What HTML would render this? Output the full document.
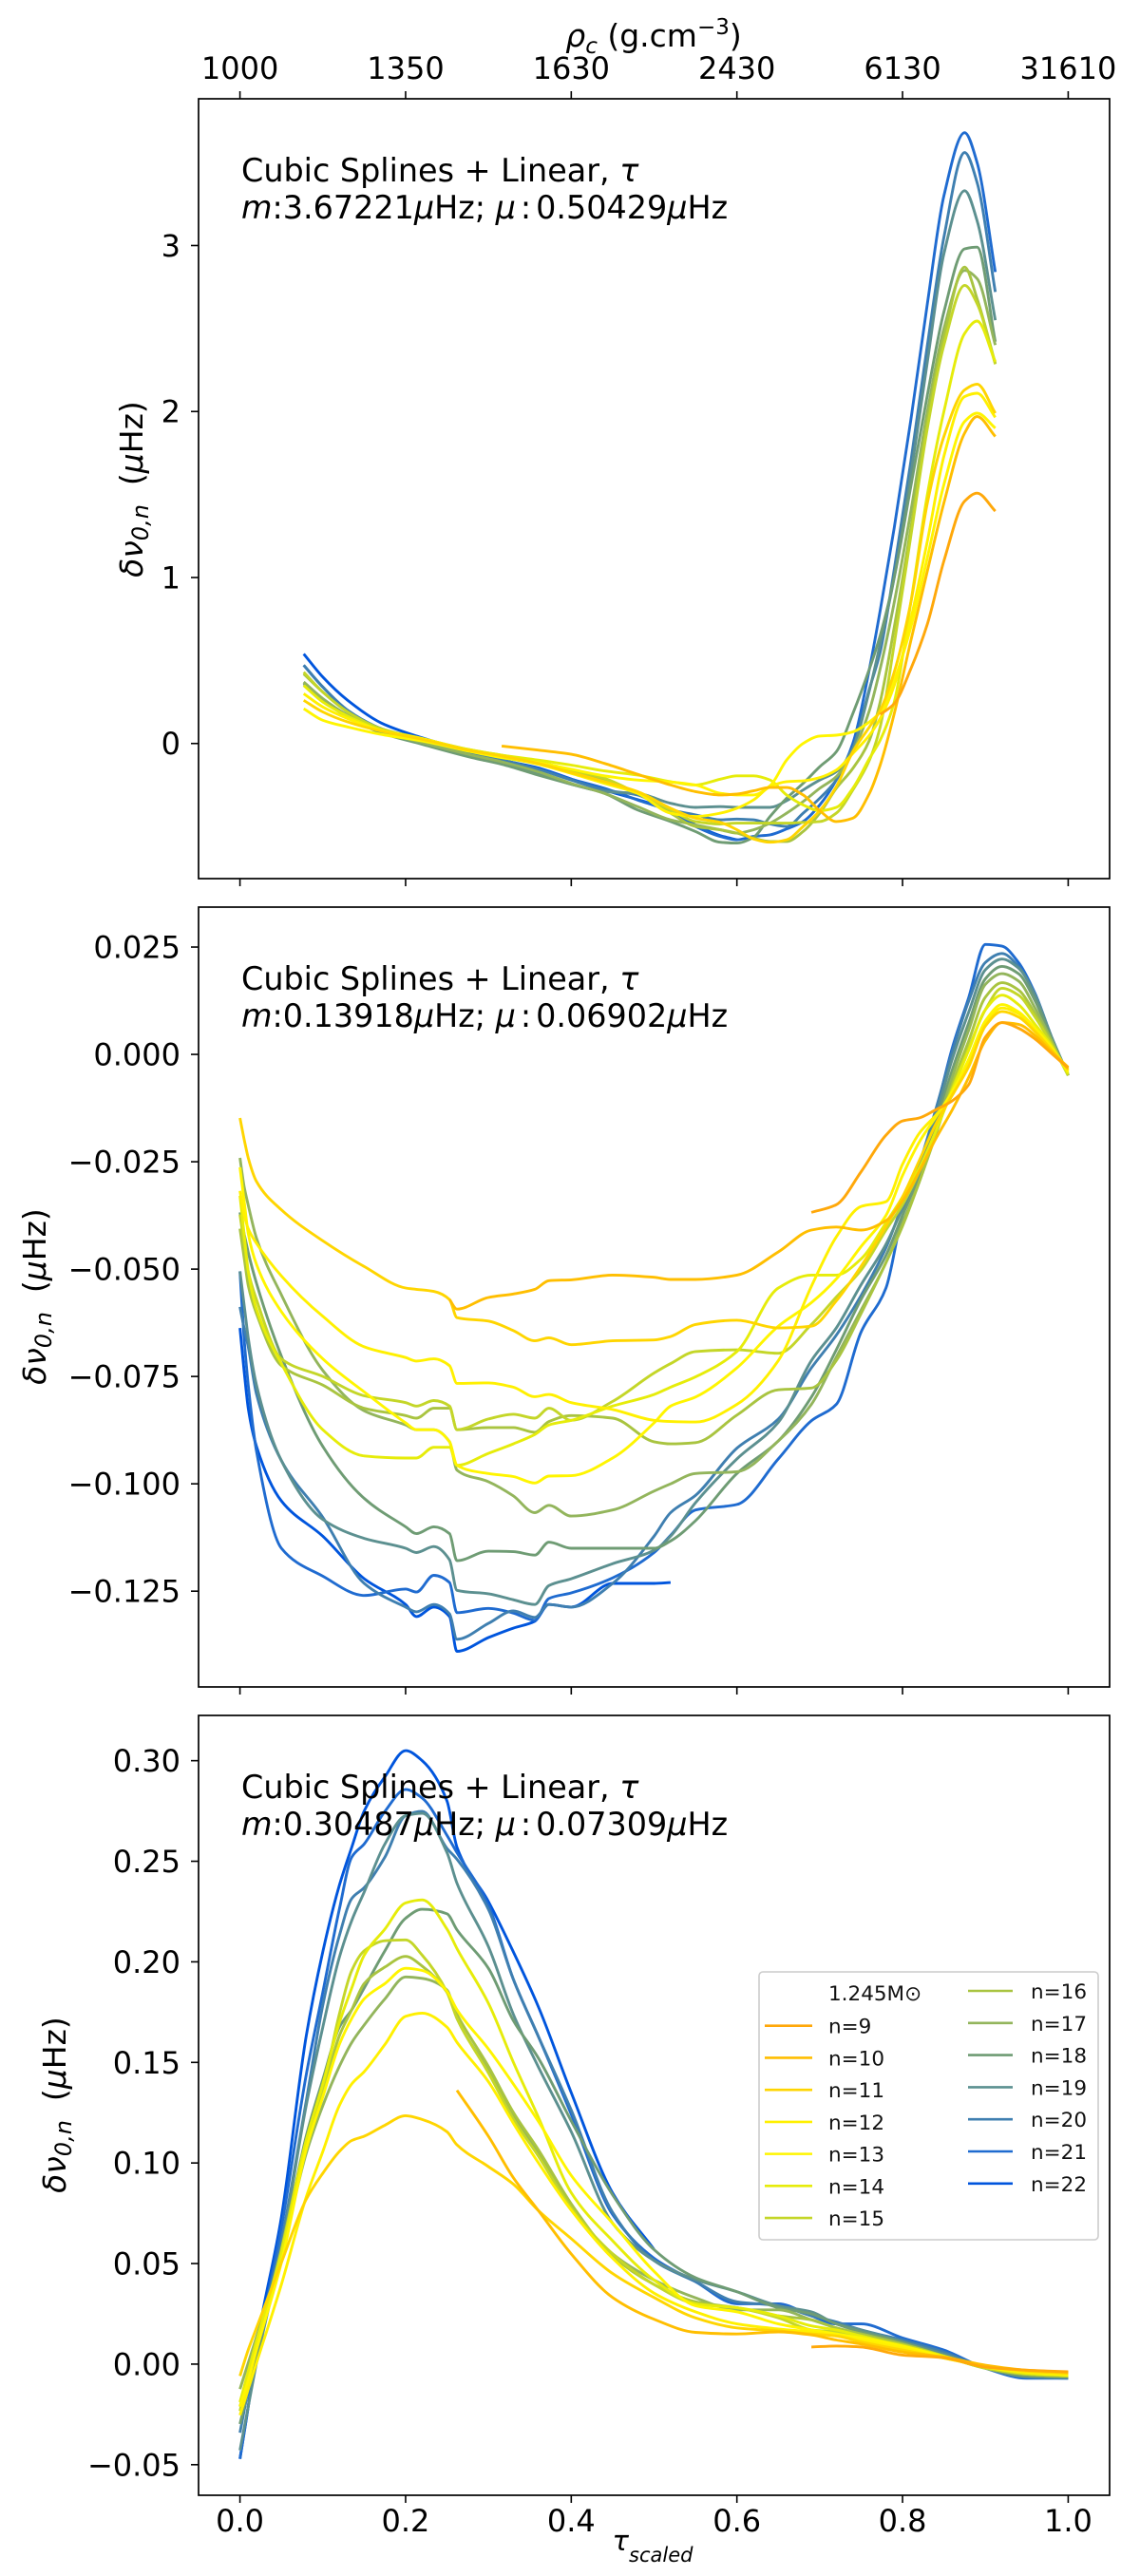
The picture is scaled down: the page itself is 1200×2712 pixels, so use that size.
<!DOCTYPE html>
<html lang="en">
<head>
<meta charset="utf-8">
<title>Frequency differences vs scaled acoustic depth</title>
<style>
html,body{margin:0;padding:0;background:#fff;}
svg{display:block;}
text{font-family:"DejaVu Sans","Liberation Sans",sans-serif;fill:#000;}
.tick{font-size:32px;}
.ann{font-size:33.4px;}
.lab{font-size:33px;}
.it{font-style:italic;}
.leg{font-size:21.5px;fill:#111;}
</style>
</head>
<body>
<svg id="fig" xmlns="http://www.w3.org/2000/svg" width="1200" height="2712" viewBox="0 0 1200 2712">
  <rect x="0" y="0" width="1200" height="2712" fill="#fff"/>
  <g id="plots"></g>

  <text class="lab" x="688" y="49" text-anchor="middle"><tspan class="it">ρ</tspan><tspan class="it" font-size="23" dy="7">c</tspan><tspan dy="-7"> (g.cm</tspan><tspan font-size="23" dy="-13">−3</tspan><tspan dy="13">)</tspan></text>

  <text class="ann"><tspan x="254" y="191">Cubic Splines + Linear, </tspan><tspan class="it">τ</tspan><tspan x="254" y="230" class="it">m</tspan><tspan>:3.67221</tspan><tspan class="it">μ</tspan><tspan>Hz; </tspan><tspan class="it">μ</tspan><tspan dx="5">:</tspan><tspan dx="5">0.50429</tspan><tspan class="it">μ</tspan><tspan>Hz</tspan></text>
  <text class="ann"><tspan x="254" y="1042">Cubic Splines + Linear, </tspan><tspan class="it">τ</tspan><tspan x="254" y="1081" class="it">m</tspan><tspan>:0.13918</tspan><tspan class="it">μ</tspan><tspan>Hz; </tspan><tspan class="it">μ</tspan><tspan dx="5">:</tspan><tspan dx="5">0.06902</tspan><tspan class="it">μ</tspan><tspan>Hz</tspan></text>
  <text class="ann"><tspan x="254" y="1893">Cubic Splines + Linear, </tspan><tspan class="it">τ</tspan><tspan x="254" y="1932" class="it">m</tspan><tspan>:0.30487</tspan><tspan class="it">μ</tspan><tspan>Hz; </tspan><tspan class="it">μ</tspan><tspan dx="5">:</tspan><tspan dx="5">0.07309</tspan><tspan class="it">μ</tspan><tspan>Hz</tspan></text>

  <text class="lab" transform="translate(150 515) rotate(-90)" text-anchor="middle"><tspan class="it">δν</tspan><tspan font-size="24" class="it" dy="6">0,n</tspan><tspan dy="-6" dx="20">(</tspan><tspan class="it">μ</tspan><tspan>Hz)</tspan></text>
  <text class="lab" transform="translate(48 1365) rotate(-90)" text-anchor="middle"><tspan class="it">δν</tspan><tspan font-size="24" class="it" dy="6">0,n</tspan><tspan dy="-6" dx="20">(</tspan><tspan class="it">μ</tspan><tspan>Hz)</tspan></text>
  <text class="lab" transform="translate(69 2216) rotate(-90)" text-anchor="middle"><tspan class="it">δν</tspan><tspan font-size="24" class="it" dy="6">0,n</tspan><tspan dy="-6" dx="20">(</tspan><tspan class="it">μ</tspan><tspan>Hz)</tspan></text>

  <text x="687" y="2685" text-anchor="middle" font-size="29"><tspan class="it">τ</tspan><tspan class="it" font-size="21" dy="12">scaled</tspan></text>

  <g id="legend"></g>
</svg>
<script>
const _ = null;
const seriesNames = ["n=9","n=10","n=11","n=12","n=13","n=14","n=15","n=16","n=17","n=18","n=19","n=20","n=21","n=22"];
const seriesColors = ["#ffa80a","#ffbe00","#ffd500","#fff000","#fff500","#e6ec0a","#c4d628","#a9c440","#93b55c","#6f9c74","#5c9090","#3f7fb0","#1f6bd0","#0055dd"];

const xTicks = [0,0.2,0.4,0.6,0.8,1.0];
const xTickLabels = ["0.0","0.2","0.4","0.6","0.8","1.0"];
const rhoTickLabels = ["1000","1350","1630","2430","6130","31610"];
const xLimits = [-0.05,1.05];

/* top panel: delta nu in microHz */
const topTau = [.077,.1,.13,.17,.22,.28,.316,.36,.4,.44,.48,.52,.55,.58,.6,.62,.64,.66,.68,.7,.72,.74,.76,.773,.79,.81,.83,.85,.875,.89,.912];
const topTicks = [0,1,2,3];
const topTickLabels = ["0","1","2","3"];
const topLimits = [-0.814,3.884];
const top9  = [_,_,_,_,_,_,_,_,_,_,_,_,_,_,_,_,_,_,_,_,_,_,_,.175,.24,.45,.72,1.1,1.46,1.508,1.40];
const top10 = [_,_,_,_,_,_,-.015,-.04,-.065,-.12,-.185,-.25,-.29,-.31,-.305,-.285,-.265,-.265,-.31,-.405,-.47,-.45,-.3,-.13,.18,.62,1.04,1.45,1.87,1.97,1.85];
const top11 = [.26,.19,.13,.075,.025,-.045,-.075,-.12,-.175,-.23,-.29,-.39,-.45,-.475,-.52,-.575,-.595,-.58,-.5,-.405,-.26,-.05,.1,.2,.43,.85,1.45,1.85,2.13,2.165,1.99];
const top12 = [.3,.22,.15,.08,.03,-.045,-.08,-.125,-.18,-.24,-.3,-.42,-.44,-.42,-.39,-.34,-.26,-.23,-.225,-.205,-.16,-.06,.05,.15,.35,.75,1.22,1.73,2.09,2.11,1.965];
const top13 = [.21,.14,.1,.055,.015,-.05,-.085,-.115,-.155,-.195,-.22,-.232,-.25,-.3,-.31,-.31,-.255,-.1,0,.045,.05,.07,.13,.19,.38,.7,1.12,1.56,1.94,1.99,1.9];
const top14 = [.35,.25,.165,.08,.02,-.04,-.07,-.1,-.13,-.165,-.19,-.23,-.25,-.215,-.195,-.195,-.22,-.31,-.37,-.405,-.385,-.27,-.09,.02,.25,.85,1.5,2.0,2.47,2.545,2.3];
const top15 = [.43,.31,.19,.09,.03,-.04,-.07,-.11,-.16,-.21,-.3,-.4,-.47,-.485,-.48,-.48,-.48,-.48,-.475,-.47,-.42,-.28,-.1,.1,.6,1.25,1.9,2.4,2.76,2.65,2.285];
const top16 = [.42,.31,.19,.085,.02,-.05,-.085,-.12,-.165,-.22,-.3,-.42,-.5,-.52,-.54,-.57,-.59,-.59,-.53,-.42,-.27,-.15,.02,.25,.7,1.3,1.95,2.45,2.87,2.68,2.29];
const top17 = [.37,.27,.17,.075,.005,-.07,-.11,-.17,-.24,-.3,-.38,-.46,-.49,-.52,-.54,-.52,-.48,-.42,-.35,-.27,-.2,-.05,.2,.45,.85,1.4,2.0,2.5,2.85,2.8,2.4];
const top18 = [.36,.26,.16,.065,-.005,-.085,-.125,-.19,-.245,-.3,-.4,-.47,-.53,-.595,-.6,-.565,-.44,-.33,-.24,-.14,-.05,.18,.45,.65,1.0,1.55,2.1,2.6,2.98,2.99,2.42];
const top19 = [.37,.27,.17,.07,0,-.08,-.115,-.18,-.245,-.29,-.3,-.36,-.385,-.38,-.385,-.385,-.385,-.345,-.28,-.22,-.17,-.03,.32,.6,1.0,1.62,2.3,2.95,3.33,3.15,2.55];
const top20 = [.472,.34,.2,.09,.02,-.06,-.1,-.155,-.22,-.28,-.31,-.4,-.43,-.46,-.455,-.46,-.485,-.5,-.42,-.33,-.22,-.03,.33,.55,1.05,1.7,2.4,3.05,3.56,3.38,2.72];
const top21 = [.472,.34,.2,.09,.02,-.06,-.1,-.155,-.215,-.27,-.34,-.41,-.5,-.56,-.58,-.56,-.55,-.515,-.47,-.37,-.22,0,.45,.8,1.3,1.95,2.65,3.3,3.68,3.5,2.84];
const top22 = [.54,.40,.26,.125,.034,-.052,-.1,-.147,-.214,-.28,-.338,-.4,-.49,-.555,-.58,_,_,_,_,_,_,_,_,_,_,_,_,_,_,_,_];
const topSeries = [top9,top10,top11,top12,top13,top14,top15,top16,top17,top18,top19,top20,top21,top22];

/* middle panel: delta nu in 10^-3 microHz */
const midTau = [0,.005,.01,.02,.05,.1,.15,.2,.213,.234,.253,.262,.3,.33,.356,.373,.4,.45,.5,.52,.55,.6,.65,.69,.72,.75,.78,.8,.82,.84,.86,.88,.9,.92,.94,.96,.98,1];
const midTicks = [25,0,-25,-50,-75,-100,-125];
const midTickLabels = ["0.025","0.000","−0.025","−0.050","−0.075","−0.100","−0.125"];
const midLimits = [-147.3,34.3];
const mid9  = [_,_,_,_,_,_,_,_,_,_,_,_,_,_,_,_,_,_,_,_,_,_,_,-36.8,-35,-27.3,-18.8,-15.5,-14.8,-12.9,-10.8,-7,4,7.4,6.1,3.6,.2,-3.2];
const mid10 = [_,_,_,_,_,_,_,_,_,_,-57.1,-59.3,-56.6,-55.8,-54.7,-52.7,-52.5,-51.4,-51.9,-52.4,-52.4,-51.4,-46,-40.9,-40.2,-40.9,-38.7,-34.1,-27.3,-19.7,-12.9,-5.3,3.2,7.4,7,4.4,.6,-3];
const mid11 = [-14.8,-19.7,-24.1,-29.6,-36.2,-43.4,-49.4,-54.4,-54.7,-55.2,-57.1,-61.3,-62.1,-64.3,-66.7,-66,-67.6,-66.7,-66.5,-65.7,-62.9,-61.9,-63.7,-63.3,-57.4,-49.3,-40,-33.2,-24.8,-16.3,-9.5,-2.8,6.6,10,8.7,5.3,1,-3.6];
const mid12 = [-31.8,-37.3,-40.6,-44,-51.6,-61,-68.1,-70.6,-71.4,-70.9,-72.5,-76.6,-76.5,-77.5,-79.7,-79.2,-81.1,-82.7,-85.2,-85.5,-85.6,-81.5,-71.3,-54,-42.5,-35.4,-34.3,-25.6,-18.4,-14.2,-9.5,-1.9,7,10.8,9.5,5.7,1.5,-3.6];
const mid13 = [-26.3,-34,-41.7,-48.9,-59.9,-70.9,-78.6,-85.8,-87.4,-87.4,-90.2,-95.7,-97.6,-98.3,-99.8,-98.2,-98.1,-94,-85.8,-81.9,-79.8,-73,-63.3,-57.8,-52.3,-44.7,-37.5,-28.2,-20.5,-14.6,-8.7,-1.1,7.8,11.6,9.9,6.1,1.5,-4];
const mid14 = [-32.9,-41.7,-50.5,-59.3,-72,-87.4,-93.5,-94,-94,-91.5,-91.5,-95.7,-92.9,-90.7,-88.5,-86.3,-85.2,-81.9,-79.2,-77.5,-75.1,-69.2,-54.4,-51.4,-51.4,-47.6,-39.2,-33.2,-26.5,-18,-8.3,1,10.4,13.8,11.6,7,1.9,-4.5];
const mid15 = [-37.3,-44,-50.5,-57.1,-70.9,-75,-79.5,-81.1,-81.9,-80.6,-81.9,-87.4,-84.9,-83.8,-84.7,-82.4,-85.2,-80.8,-74.2,-72,-69.2,-68.8,-69.6,-62.9,-56.5,-50.2,-40.9,-35,-27.3,-18,-7.8,1.5,10.4,15.4,13.8,8.7,2.3,-4.9];
const mid16 = [-40.6,-47.2,-53.8,-60.4,-72.5,-77,-82.4,-84.1,-84.7,-82.4,-82.4,-87.4,-86.9,-86.9,-88,-85.5,-84.1,-84.7,-90.2,-90.7,-90.4,-84,-78.1,-77.7,-71.3,-60.3,-48.5,-40,-29.8,-18.8,-7,3.2,13.3,16.7,15,9.5,2.7,-4.9];
const mid17 = [-24.1,-30.7,-35.1,-42.8,-56,-73.6,-83,-86.3,-87.4,-87.4,-90.2,-96.8,-99.5,-102.8,-106.7,-105,-107.5,-106.1,-101.7,-100,-97.6,-97.2,-90,-81.5,-70.5,-59.5,-48.5,-39.2,-29.8,-18,-5.3,5.7,16.3,18.8,17.1,10.8,3.2,-4.9];
const mid18 = [-36.8,-41.7,-46.1,-53.3,-70.3,-91.3,-103.4,-110,-111.6,-110,-111.6,-117.9,-115.7,-115.8,-116.6,-113.6,-115,-115,-115,-113.3,-108.6,-97.6,-90,-79.8,-68.8,-57,-46.8,-37.5,-28.2,-16.3,-3.6,7.4,17.6,20.5,18.8,12.5,3.6,-4.9];
const mid19 = [-50.5,-58.2,-66,-77,-94.6,-108.3,-112.7,-115,-116,-114.6,-117.7,-124.8,-125.6,-127,-128.1,-123.7,-122.1,-118.6,-115.5,-112.2,-104.4,-94.2,-85.7,-71.3,-63.7,-53.6,-44.2,-35.8,-26.5,-14.6,-1.1,9.9,19.7,22.2,20.1,13.8,4,-4.9];
const mid20 = [-58.8,-63.7,-68.1,-79.1,-94.6,-107.8,-123.2,-128.7,-129.8,-128.1,-130.3,-136.2,-132.5,-129.6,-131.1,-128.1,-128.7,-123.2,-112.2,-106.7,-102.7,-91.7,-84.9,-73,-65.4,-56.1,-45,-35,-25.6,-12.9,.6,12.5,21.4,23.5,20.5,13.8,4,-4.9];
const mid21 = [-50.5,-66,-77,-92.4,-115,-121.5,-126,-124.5,-125.2,-121.3,-123,-130,-129,-130.1,-131.8,-126.7,-125.4,-121.9,-116,-112,-106.1,-104.8,-94.2,-85.3,-81.5,-64.6,-54.4,-37.5,-28.2,-13.8,1.5,13.3,25.6,25.2,21.4,14.2,4,-4.9];
const mid22 = [-63.7,-73.6,-82.4,-91.3,-104,-112.2,-122.1,-128.1,-130.9,-128.7,-130.9,-139,-135.8,-133.6,-132,-128.1,-128.7,-123.2,-123.2,-123,_,_,_,_,_,_,_,_,_,_,_,_,_,_,_,_,_,_];
const midSeries = [mid9,mid10,mid11,mid12,mid13,mid14,mid15,mid16,mid17,mid18,mid19,mid20,mid21,mid22];

/* bottom panel: delta nu in 10^-3 microHz */
const botTau = [0,.01,.02,.05,.08,.1,.12,.135,.15,.175,.2,.22,.25,.262,.3,.33,.36,.4,.45,.5,.55,.6,.65,.69,.72,.75,.8,.85,.9,.95,1];
const botTicks = [300,250,200,150,100,50,0,-50];
const botTickLabels = ["0.30","0.25","0.20","0.15","0.10","0.05","0.00","−0.05"];
const botLimits = [-65.2,322.5];
const bot9  = [_,_,_,_,_,_,_,_,_,_,_,_,_,_,_,_,_,_,_,_,_,_,_,8.5,9,8.5,4.5,3.2,-1.5,-3,-3.8];
const bot10 = [_,_,_,_,_,_,_,_,_,_,_,_,_,136.1,113.3,92.7,76.5,54.8,33.1,22.3,15.8,15,16,14.5,12,10,6,3.5,-.5,-3,-4];
const bot11 = [-5.9,7.1,18,50.5,81.9,94.9,105.7,111.2,113.3,118.8,123.5,121.6,115.5,109,98.2,89.5,76.5,62.4,45,33.1,23,18,16.5,15,14,11,7,3,-1,-3.5,-4.5];
const bot12 = [-25.4,-12.4,.6,39.6,83,105.7,128.5,139.3,145.4,158.9,172.9,174.5,167.5,160,140.4,119.8,100.3,76.5,52.6,35.3,26,20,17.5,16,14,12,8,3,-1,-4,-5];
const bot13 = [-21.1,-8.1,7.1,50.5,106.8,132.8,158.9,171.9,181.6,189.2,196.8,195.7,185.3,176.2,156.7,139.3,120.9,93.8,70,46.1,29,26,20,17,15,13,9,3.5,-1.5,-4,-5.5];
const bot14 = [-18.9,-3.7,11.4,54.8,111.2,139.3,169.7,187,203.3,216.3,229.3,230.8,216.3,206.6,179.4,150.2,123.1,85.2,61.3,41.8,30,28,24,19,17,14,9,4,-1.5,-4.5,-5.5];
const bot15 = [-23.3,-5.9,9.3,57,111.2,137.2,174,195.7,205.5,210.5,210.9,203.3,184.9,171.9,144.8,122,103.6,77.6,54.8,39.6,30,28,23,17,16,13,9.5,4,-2,-5,-6];
const bot16 = [-21.1,-5.9,9.3,54.8,109,135,163.2,176.2,189.2,197.4,202.7,197.9,184.9,174,148,125.2,106.8,79.7,53.7,39.6,31,28,24,22,18,15,10,4,-2,-5,-6];
const bot17 = [-12.4,.6,13.6,54.8,104.7,128.5,148,159.9,168.6,181.6,192.5,191.8,186,171.9,145.8,123.1,105.7,77.6,54.8,41.8,33,27,27,22,18,15,10,4,-2,-5,-6];
const bot18 = [-29.8,-12.4,4.9,54.8,113.3,141.5,167.5,176.2,187,205.5,221.7,226.1,223.9,215.9,196.8,170.8,152.4,120.9,84.1,56.9,43,36,28,25,20,16,11,4,-2,-6,-6.5];
const bot19 = [-42.8,-21.1,.6,57,128.5,167.5,202.2,220.6,234.7,258.6,272.7,273.8,254.3,239.1,207.6,174,148,115.5,70,51.5,42,36,29,26,20,17,11,5,-2,-6,-6.5];
const bot20 = [-34.1,-12.4,9.3,61.3,130.7,178.4,213,231.5,236.9,252.1,272.7,274.8,256.4,251,226.1,191.4,163.2,126.3,75.4,51.5,41,31,29,24,21,17,12,6,-2,-6.5,-7];
const bot21 = [-47.1,-21.1,4.9,67.8,143.7,184.9,226.1,252.1,258.6,274.8,285.7,281.4,262.9,254.3,228.2,191.4,163.2,124.2,74.3,52.6,41,30,30,24,20,20,13,7,-2,-7,-7];
const bot22 = [-47.1,-21.1,9,73,163,205,238,257,275,292,305,300,280,257,230,205,178,135,85,57,_,_,_,_,_,_,_,_,_,_,_];
const botSeries = [bot9,bot10,bot11,bot12,bot13,bot14,bot15,bot16,bot17,bot18,bot19,bot20,bot21,bot22];

const NS = "http://www.w3.org/2000/svg";
const plotsLayer = document.getElementById("plots");
const legendLayer = document.getElementById("legend");
const frameLeft = 209, frameRight = 1168;

function xScale(t){ return frameLeft + (t - xLimits[0]) / (xLimits[1] - xLimits[0]) * (frameRight - frameLeft); }
function yScaleFor(limits, top, bottom){ return function(v){ return bottom - (v - limits[0]) / (limits[1] - limits[0]) * (bottom - top); }; }

/* monotone cubic path through the data points */
function linePath(tau, vals, yScale){
  const pts = [];
  for(let i = 0; i < tau.length; i++){ if(vals[i] !== null){ pts.push([xScale(tau[i]), yScale(vals[i])]); } }
  const n = pts.length;
  const h = [], d = [], m = [];
  for(let i = 0; i < n - 1; i++){
    h[i] = pts[i + 1][0] - pts[i][0];
    d[i] = (pts[i + 1][1] - pts[i][1]) / h[i];
  }
  m[0] = d[0];
  m[n - 1] = d[n - 2];
  for(let i = 1; i < n - 1; i++){
    if(d[i - 1] * d[i] <= 0){ m[i] = 0; }
    else {
      const w1 = 2 * h[i] + h[i - 1], w2 = h[i] + 2 * h[i - 1];
      m[i] = (w1 + w2) / (w1 / d[i - 1] + w2 / d[i]);
    }
  }
  let path = "M" + pts[0][0].toFixed(1) + " " + pts[0][1].toFixed(1);
  for(let i = 0; i < n - 1; i++){
    path += "C" + (pts[i][0] + h[i] / 3).toFixed(1) + " " + (pts[i][1] + m[i] * h[i] / 3).toFixed(1) + " " + (pts[i + 1][0] - h[i] / 3).toFixed(1) + " " + (pts[i + 1][1] - m[i + 1] * h[i] / 3).toFixed(1) + " " + pts[i + 1][0].toFixed(1) + " " + pts[i + 1][1].toFixed(1);
  }
  return path;
}

function drawPanel(prefix, top, bottom, limits, tau, series, yTicks, yLabels, showBottomLabels, showTopAxis){
  const yScale = yScaleFor(limits, top, bottom);
  for(let s = series.length - 1; s >= 0; s--){
    const line = document.createElementNS(NS, "path");
    line.setAttribute("d", linePath(tau, series[s], yScale));
    line.setAttribute("fill", "none");
    line.setAttribute("stroke", seriesColors[s]);
    line.setAttribute("stroke-width", "2.9");
    line.setAttribute("stroke-linejoin", "round");
    
    
    plotsLayer.appendChild(line);
  }
  const frame = document.createElementNS(NS, "rect");
  frame.setAttribute("x", frameLeft);
  frame.setAttribute("y", top);
  frame.setAttribute("width", frameRight - frameLeft);
  frame.setAttribute("height", bottom - top);
  frame.setAttribute("fill", "none");
  frame.setAttribute("stroke", "#000");
  frame.setAttribute("stroke-width", "1.7");
  
  
  plotsLayer.appendChild(frame);

  for(let i = 0; i < yTicks.length; i++){
    const yp = yScale(yTicks[i]);
    const tick = document.createElementNS(NS, "line");
    tick.setAttribute("x1", frameLeft - 8);
    tick.setAttribute("x2", frameLeft);
    tick.setAttribute("y1", yp);
    tick.setAttribute("y2", yp);
    tick.setAttribute("stroke", "#000");
    tick.setAttribute("stroke-width", "1.6");
    
    
    plotsLayer.appendChild(tick);
    const label = document.createElementNS(NS, "text");
    label.setAttribute("x", frameLeft - 19);
    label.setAttribute("y", yp + 11.5);
    label.setAttribute("text-anchor", "end");
    label.setAttribute("class", "tick");
    
    
    label.textContent = yLabels[i];
    plotsLayer.appendChild(label);
  }
  for(let i = 0; i < xTicks.length; i++){
    const xp = xScale(xTicks[i]);
    const tick = document.createElementNS(NS, "line");
    tick.setAttribute("x1", xp);
    tick.setAttribute("x2", xp);
    tick.setAttribute("y1", bottom);
    tick.setAttribute("y2", bottom + 8);
    tick.setAttribute("stroke", "#000");
    tick.setAttribute("stroke-width", "1.6");
    
    
    plotsLayer.appendChild(tick);
    if(showBottomLabels){
      const label = document.createElementNS(NS, "text");
      label.setAttribute("x", xp);
      label.setAttribute("y", bottom + 38);
      label.setAttribute("text-anchor", "middle");
      label.setAttribute("class", "tick");
      
      
      label.textContent = xTickLabels[i];
      plotsLayer.appendChild(label);
    }
    if(showTopAxis){
      const topTick = document.createElementNS(NS, "line");
      topTick.setAttribute("x1", xp);
      topTick.setAttribute("x2", xp);
      topTick.setAttribute("y1", top - 8);
      topTick.setAttribute("y2", top);
      topTick.setAttribute("stroke", "#000");
      topTick.setAttribute("stroke-width", "1.6");
      
      
      plotsLayer.appendChild(topTick);
      const topLabel = document.createElementNS(NS, "text");
      topLabel.setAttribute("x", xp);
      topLabel.setAttribute("y", top - 21);
      topLabel.setAttribute("text-anchor", "middle");
      topLabel.setAttribute("class", "tick");
      
      
      topLabel.textContent = rhoTickLabels[i];
      plotsLayer.appendChild(topLabel);
    }
  }
}

drawPanel("top-panel", 104, 925, topLimits, topTau, topSeries, topTicks, topTickLabels, false, true);
drawPanel("middle-panel", 955, 1776, midLimits, midTau, midSeries, midTicks, midTickLabels, false, false);
drawPanel("bottom-panel", 1806, 2627, botLimits, botTau, botSeries, botTicks, botTickLabels, true, false);

/* legend */
const legendBox = document.createElementNS(NS, "rect");
legendBox.setAttribute("x", 799);
legendBox.setAttribute("y", 2076);
legendBox.setAttribute("width", 357);
legendBox.setAttribute("height", 282);
legendBox.setAttribute("rx", 4);
legendBox.setAttribute("fill", "#fff");
legendBox.setAttribute("fill-opacity", "0.8");
legendBox.setAttribute("stroke", "#ccc");
legendBox.setAttribute("stroke-width", "1.6");


legendLayer.appendChild(legendBox);

const legendHeader = document.createElementNS(NS, "text");
legendHeader.setAttribute("x", 872);
legendHeader.setAttribute("y", 2106);
legendHeader.setAttribute("class", "leg");


legendHeader.textContent = "1.245M\u2299";
legendLayer.appendChild(legendHeader);

for(let s = 0; s < seriesNames.length; s++){
  const firstCol = s < 7;
  const lineX1 = firstCol ? 805 : 1019;
  const lineX2 = firstCol ? 855 : 1066;
  const textX = firstCol ? 872 : 1085;
  const rowY = firstCol ? 2132.7 + (s * 33.73) : 2096 + ((s - 7) * 33.8);
  const swatch = document.createElementNS(NS, "line");
  swatch.setAttribute("x1", lineX1);
  swatch.setAttribute("x2", lineX2);
  swatch.setAttribute("y1", rowY);
  swatch.setAttribute("y2", rowY);
  swatch.setAttribute("stroke", seriesColors[s]);
  swatch.setAttribute("stroke-width", "2.6");
  
  
  legendLayer.appendChild(swatch);
  const entry = document.createElementNS(NS, "text");
  entry.setAttribute("x", textX);
  entry.setAttribute("y", rowY + 8);
  entry.setAttribute("class", "leg");
  
  
  entry.textContent = seriesNames[s];
  legendLayer.appendChild(entry);
}
</script>
</body>
</html>
